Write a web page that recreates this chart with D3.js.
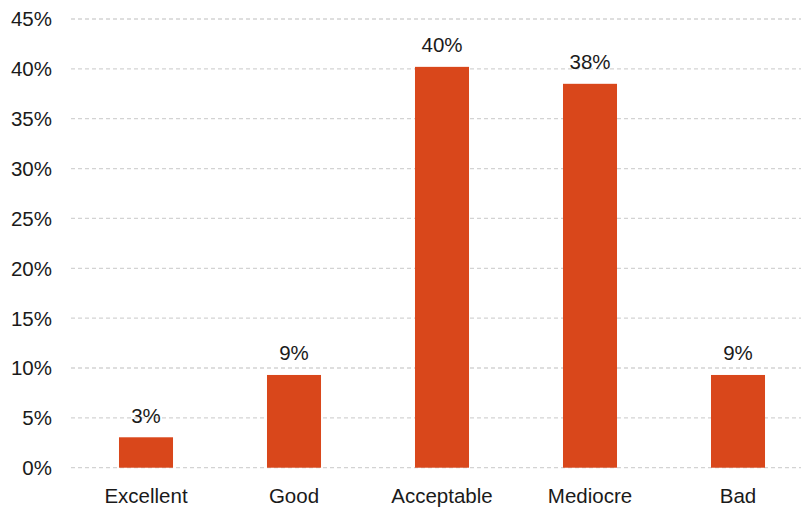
<!DOCTYPE html>
<html><head><meta charset="utf-8">
<script src="https://cdn.jsdelivr.net/npm/d3@7"></script>
<style>body{margin:0;background:#fff}svg{display:block}text{font-family:"Liberation Sans",Arial,sans-serif}</style>
</head><body>
<svg id="c" width="801" height="508"></svg>
<script>
const categories = ["Excellent","Good","Acceptable","Mediocre","Bad"];
const values = [3.05, 9.3, 40.2, 38.5, 9.3];
const valueLabels = ["3%","9%","40%","38%","9%"];
const yTicks = [0,5,10,15,20,25,30,35,40,45];

const svg = d3.select("#c");
const x = d3.scaleBand().domain(categories).range([72, 812]).paddingInner(0.635).paddingOuter(0.3175);
const y = d3.scaleLinear().domain([0,45]).range([467.7, 19]);
const fs = 20.5;

svg.append("g").selectAll("line").data(yTicks).join("line")
  .attr("x1", 71).attr("x2", 801)
  .attr("y1", d => y(d)).attr("y2", d => y(d))
  .attr("stroke", "#d3d3d3").attr("stroke-width", 1.3).attr("stroke-dasharray", "4,3");

svg.append("g").selectAll("text").data(yTicks).join("text")
  .attr("x", 52).attr("y", d => y(d)).attr("dy", "0.36em")
  .attr("text-anchor", "end").attr("font-size", fs).attr("fill", "#1a1a1a")
  .text(d => d + "%");

svg.append("g").selectAll("rect").data(values).join("rect")
  .attr("x", (d,i) => x(categories[i])).attr("width", x.bandwidth())
  .attr("y", d => y(d)).attr("height", d => y(0) - y(d))
  .attr("fill", "#d9471b");

svg.append("g").selectAll("text").data(values).join("text")
  .attr("x", (d,i) => x(categories[i]) + x.bandwidth()/2)
  .attr("y", d => y(d) - 14.5)
  .attr("text-anchor", "middle").attr("font-size", fs).attr("fill", "#1a1a1a")
  .text((d,i) => valueLabels[i]);

svg.append("g").selectAll("text").data(categories).join("text")
  .attr("x", d => x(d) + x.bandwidth()/2).attr("y", 503)
  .attr("text-anchor", "middle").attr("font-size", fs).attr("fill", "#1a1a1a")
  .text(d => d);
</script>
</body></html>
